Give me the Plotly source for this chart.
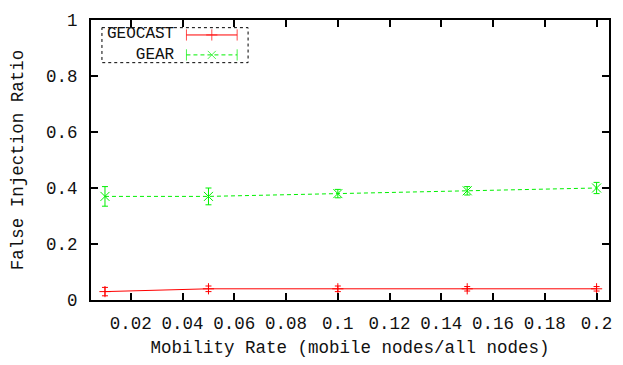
import plotly.graph_objects as go

# Mobility rate (fraction of mobile nodes) on the x axis
mobility = [0.01, 0.05, 0.10, 0.15, 0.20]

# False injection ratio and error half-widths for each scheme
geocast = [0.03, 0.04, 0.04, 0.04, 0.04]
geocast_err = [0.015, 0.01, 0.01, 0.008, 0.008]
gear = [0.37, 0.37, 0.38, 0.39, 0.40]
gear_err = [0.035, 0.03, 0.015, 0.015, 0.02]

series_names = ["GEOCAST", "GEAR"]

xtick_vals = [0.02, 0.04, 0.06, 0.08, 0.10, 0.12, 0.14, 0.16, 0.18, 0.20]
xtick_text = ["0.02", "0.04", "0.06", "0.08", "0.1", "0.12", "0.14", "0.16", "0.18", "0.2"]
ytick_vals = [0, 0.2, 0.4, 0.6, 0.8, 1.0]
ytick_text = ["0", "0.2", "0.4", "0.6", "0.8", "1"]

RED = "#ff0000"
GREEN = "#00f000"
FONT = "Liberation Mono, Courier New, monospace"
FS = 17.5
KEY_FS = 16

fig = go.Figure()

fig.add_trace(go.Scatter(
    x=mobility, y=geocast, mode="lines+markers", name=series_names[0],
    line=dict(color=RED, width=1),
    marker=dict(symbol="cross-thin", size=8, line=dict(color=RED, width=1)),
    error_y=dict(type="data", array=geocast_err, color=RED, thickness=1, width=3),
    showlegend=False,
))
fig.add_trace(go.Scatter(
    x=mobility, y=gear, mode="lines+markers", name=series_names[1],
    line=dict(color=GREEN, width=1, dash="4px,3px"),
    marker=dict(symbol="x-thin", size=9, line=dict(color=GREEN, width=1)),
    error_y=dict(type="data", array=gear_err, color=GREEN, thickness=1, width=3),
    showlegend=False,
))

# Key drawn on an overlay axis measured in layout pixels
key_x = [187, 212.5, 238]
row_gap = KEY_FS * 1.3
key_mid = 38.0
row_y = [key_mid - row_gap / 2, key_mid + row_gap / 2]
key_styles = [(RED, "solid", "cross-thin"), (GREEN, "4px,3px", "x-thin")]
for ky, (color, dash, sym) in zip(row_y, key_styles):
    fig.add_trace(go.Scatter(
        x=key_x, y=[ky] * 3, xaxis="x2", yaxis="y2", mode="lines+markers",
        line=dict(color=color, width=1, dash=dash),
        marker=dict(symbol=["line-ns", sym, "line-ns"], size=[8, 8, 8],
                    color=color, line=dict(color=color, width=1)),
        showlegend=False, hoverinfo="skip",
    ))

fig.add_annotation(x=176, y=key_mid, xref="x2", yref="y2",
                   text="<br>".join(series_names), align="right",
                   showarrow=False, xanchor="right", yanchor="middle",
                   borderpad=0, font=dict(family=FONT, size=KEY_FS, color="#111"))

fig.add_shape(type="rect", xref="x2", yref="y2", x0=102, x1=249, y0=20, y1=56.5,
              line=dict(color="black", width=1, dash="dot"))

axis_common = dict(
    showline=True, linecolor="black", linewidth=2, mirror="allticks",
    ticks="inside", ticklen=7, tickwidth=2, tickcolor="black",
    showgrid=False, zeroline=False,
    tickfont=dict(family=FONT, size=FS, color="#111"),
)

fig.update_layout(
    width=623, height=365,
    margin=dict(l=91, r=11, t=12, b=61),
    paper_bgcolor="white", plot_bgcolor="white",
    font=dict(family=FONT, size=FS, color="#111"),
    xaxis=dict(range=[0.0046, 0.2048], tickvals=xtick_vals, ticktext=xtick_text,
               ticklabelstandoff=6,
               title=dict(text="Mobility Rate (mobile nodes/all nodes)", standoff=8,
                          font=dict(family=FONT, size=FS, color="#111")),
               **axis_common),
    yaxis=dict(range=[0, 1], tickvals=ytick_vals, ticktext=ytick_text,
               ticklabelstandoff=8,
               title=dict(text="False Injection Ratio", standoff=18,
                          font=dict(family=FONT, size=FS, color="#111")),
               **axis_common),
    xaxis2=dict(range=[91, 612], overlaying="x", visible=False, fixedrange=True),
    yaxis2=dict(range=[304, 12], overlaying="y", visible=False, fixedrange=True),
)

fig.write_html("out.html")
